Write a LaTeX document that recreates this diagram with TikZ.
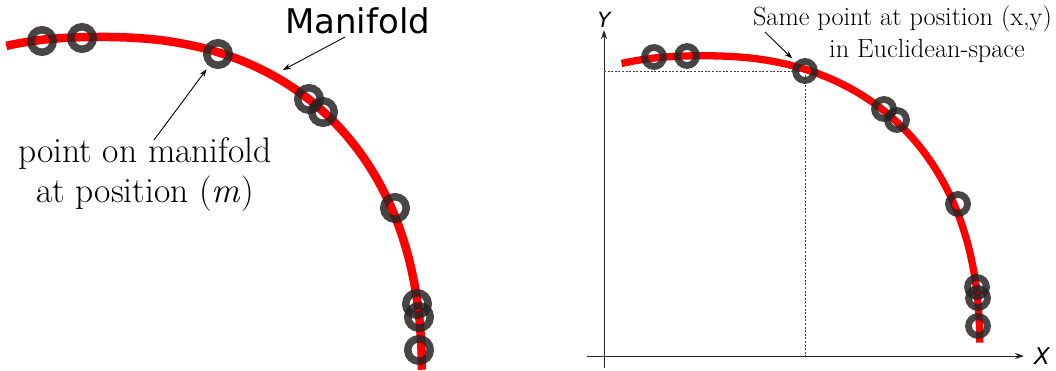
\documentclass[tikz,border=0pt]{standalone}
\usepackage{fontspec}
\newfontfamily\dejavu{DejaVu Sans}
\usetikzlibrary{arrows.meta}
\begin{document}
\begin{tikzpicture}[x=1pt,y=-1pt,
  curveline/.style={draw=red, line width=#1},
  ring/.style={circle, draw={rgb,255:red,40;green,36;blue,36}, draw opacity=0.85, line width=#1, inner sep=0pt},
  bigring/.style={ring=7.5pt, minimum size=22.5pt},
  smallring/.style={ring=6.8pt, minimum size=19pt},
  pointer/.style={draw=black, line width=0.9pt, -{Stealth[length=8pt,width=5.5pt]}},
  axisline/.style={draw=black!85, line width=1pt},
  guide/.style={draw=black!75, line width=0.6pt, dash pattern=on 2pt off 1.6pt},
  serifbig/.style={font=\fontsize{35.5}{40}\selectfont, inner sep=0pt},
  serifsmall/.style={font=\fontsize{26.3}{32}\selectfont, inner sep=0pt},
  sanslabel/.style={font=\dejavu\fontsize{34}{40}\selectfont, inner sep=0pt},
  axislabel/.style={inner sep=0pt}
]
\useasboundingbox (0,0) rectangle (1056,370);

% ---------- left panel ----------
\draw[curveline=8.5pt] plot[domain=-14:89, samples=111, variable=\t]
  ({100+322*sign(sin(\t))*pow(abs(sin(\t)),0.87)}, {380-343*pow(cos(\t),0.87)});

\node[bigring] (l1) at (42,41) {};
\node[bigring] (l2) at (82,38) {};
\node[bigring] (l3) at (218,54) {};
\node[bigring] (l4) at (309,99) {};
\node[bigring] (l5) at (323,112) {};
\node[bigring] (l6) at (395,208) {};
\node[bigring] (l7) at (417,304) {};
\node[bigring] (l8) at (419,317) {};
\node[bigring] (l9) at (419,350) {};

\node[sanslabel, anchor=base west] (mf) at (285,33) {Manifold};
\coordinate (mtip) at (283,70);
\draw[pointer] (345,37) -- (mtip);

\node[serifbig, anchor=base] (pt1) at (145,162) {point on manifold};
\node[serifbig, anchor=base] (pt2) at (145,202) {at position (\textit{m})};
\draw[pointer, shorten >=4pt] (154,140) -- (l3);

% ---------- right panel ----------
\coordinate (yb) at (604,368);
\coordinate (yt) at (604,30);
\coordinate (xl) at (587,356);
\coordinate (xr) at (1024,356);
\draw[axisline, -{Stealth[length=9pt,width=6pt]}] (yb) -- (yt);
\draw[axisline, -{Stealth[length=9pt,width=6pt]}] (xl) -- (xr);
\node[axislabel, font=\dejavu\itshape\fontsize{21}{24}\selectfont] (ylab) at (604,20) {Y};
\node[axislabel, font=\dejavu\itshape\fontsize{23}{26}\selectfont] (xlab) at (1042,356) {X};

\begin{scope}[shift={(616.1,23.9)}, scale=0.862]
\draw[curveline=7.3pt] plot[domain=-14:89, samples=111, variable=\t]
  ({100+322*sign(sin(\t))*pow(abs(sin(\t)),0.87)}, {380-343*pow(cos(\t),0.87)});
\end{scope}

\coordinate (r3c) at (805,71);
\draw[guide] (r3c -| yt) -- (r3c);
\draw[guide] (r3c) -- (r3c |- xl);

\node[smallring] (r1) at (654,57) {};
\node[smallring] (r2) at (687,56) {};
\node[smallring] (r3) at (r3c) {};
\node[smallring] (r4) at (884,109) {};
\node[smallring] (r5) at (897,120) {};
\node[smallring] (r6) at (958,204) {};
\node[smallring] (r7) at (977,287) {};
\node[smallring] (r8) at (978,298) {};
\node[smallring] (r9) at (978,326) {};

\node[serifsmall, anchor=base east] (sp1) at (1052,25) {Same point at position (x,y)};
\node[serifsmall, anchor=base west] (sp2) at (829,57) {in Euclidean-space};
\draw[pointer, shorten >=5pt] (765,32) -- (r3);
\end{tikzpicture}
\end{document}
